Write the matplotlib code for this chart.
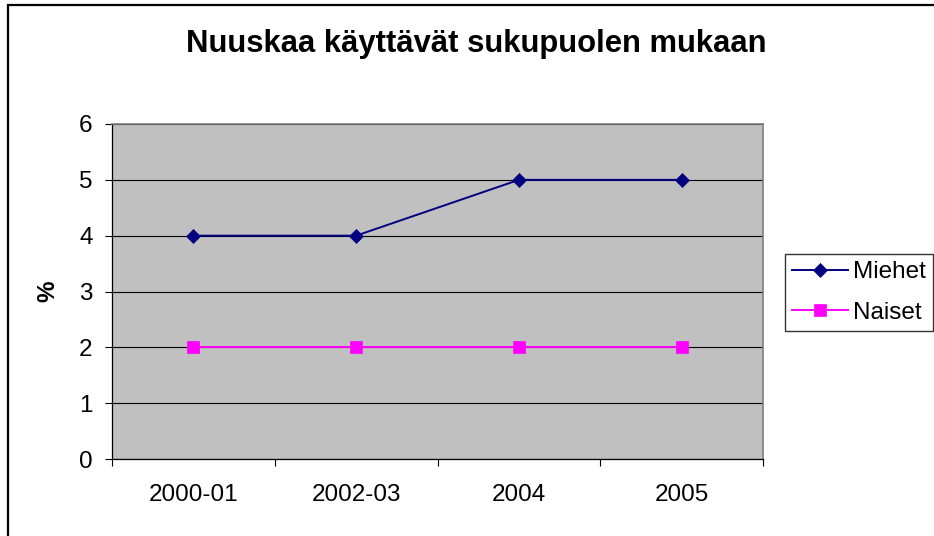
import matplotlib
matplotlib.use("Agg")
import matplotlib.pyplot as plt
from matplotlib.patches import Rectangle

# chart data
periods = ["2000-01", "2002-03", "2004", "2005"]
miehet = [4, 4, 5, 5]
naiset = [2, 2, 2, 2]
yticks = [0, 1, 2, 3, 4, 5, 6]

plt.rcParams["font.family"] = ["Liberation Sans", "DejaVu Sans"]

fig = plt.figure(figsize=(9.34, 5.36), dpi=100)
fig.patch.set_facecolor("white")

# outer chart border (Excel style, cut off on right/bottom)
fig.patches.append(Rectangle((8 / 934, -0.1), 1.2, 1.1 - 5 / 536, transform=fig.transFigure,
                             fill=False, edgecolor="black", linewidth=1.6))

ax = fig.add_axes([112 / 934, 1 - 459 / 536, (763 - 112) / 934, (459 - 124) / 536])
ax.set_facecolor("#C0C0C0")

x = list(range(len(periods)))
ax.plot(x, miehet, color="#000080", marker="D", markersize=7, markeredgewidth=0.5,
        linewidth=1.4, label="Miehet")
ax.plot(x, naiset, color="#FF00FF", marker="s", markersize=8, markeredgewidth=0.5,
        linewidth=1.4, label="Naiset")

ax.set_xlim(-0.5, len(periods) - 0.5)
ax.set_ylim(0, 6)
ax.set_yticks(yticks)
ax.set_xticks(x)
ax.set_xticklabels(periods)
ax.set_xticks([i - 0.5 for i in range(len(periods) + 1)], minor=True)

ax.set_axisbelow(True)
ax.yaxis.grid(True, color="black", linewidth=0.8)

ax.tick_params(axis="y", direction="out", length=5, width=0.8, pad=9, labelsize=17.5)
ax.tick_params(axis="x", which="major", length=0, pad=18, labelsize=17.5)
ax.tick_params(axis="x", which="minor", direction="out", length=5, width=0.8)

for s in ["top", "right"]:
    ax.spines[s].set_color("#808080")
    ax.spines[s].set_linewidth(1.2)
for s in ["left", "bottom"]:
    ax.spines[s].set_color("black")
    ax.spines[s].set_linewidth(0.9)

ax.set_ylabel("%", fontsize=17.5, fontweight="bold", labelpad=14)

fig.text(476 / 934, 1 - 44 / 536, "Nuuskaa käyttävät sukupuolen mukaan", ha="center", va="center",
         fontsize=22.3, fontweight="bold")

leg = fig.legend(loc="upper left", bbox_to_anchor=(785 / 934, 1 - 254 / 536), fontsize=17.5,
                 frameon=True, fancybox=False, edgecolor="black", handlelength=2.3,
                 handletextpad=0.2, borderpad=0.3, labelspacing=0.75, borderaxespad=0)
leg.get_frame().set_linewidth(1.0)

fig.savefig("out.png", dpi=100)
